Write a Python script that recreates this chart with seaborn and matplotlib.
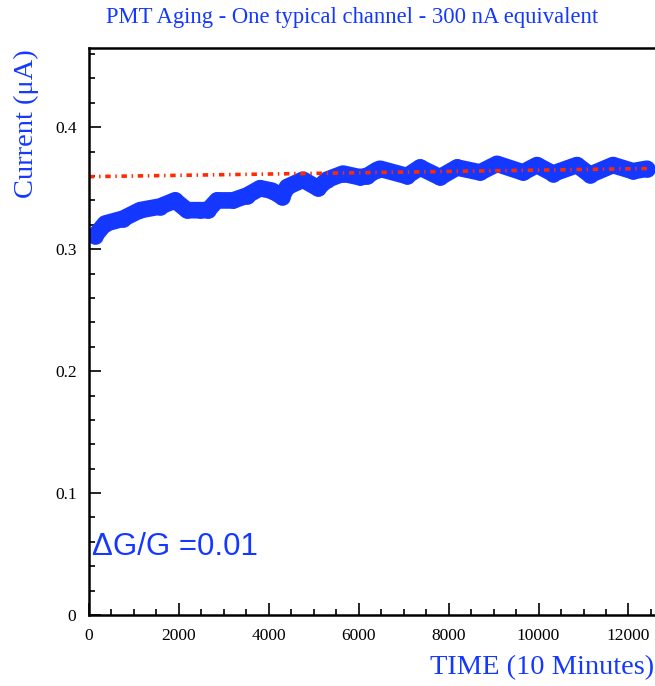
import matplotlib
matplotlib.use("Agg")
import matplotlib.pyplot as plt
import seaborn as sns
import pandas as pd
from matplotlib.ticker import MultipleLocator

sns.set_theme(style="white")

time_x = [133, 356, 756, 1134, 1579, 1913, 2180, 2470, 2647, 2847, 3203, 3514,
          3803, 4070, 4293, 4404, 4760, 5093, 5294, 5650, 6027, 6183, 6406, 6472,
          7073, 7362, 7807, 8185, 8697, 9075, 9653, 9964, 10320, 10854, 11143,
          11655, 12100, 12411]
current_y = [0.311, 0.321, 0.325, 0.332, 0.335, 0.340, 0.332, 0.332, 0.332, 0.340,
             0.340, 0.344, 0.350, 0.348, 0.343, 0.351, 0.357, 0.350, 0.357, 0.362,
             0.359, 0.360, 0.365, 0.366, 0.360, 0.367, 0.359, 0.367, 0.363, 0.370,
             0.363, 0.369, 0.362, 0.369, 0.361, 0.369, 0.364, 0.366]
fit_x = [0, 12500]
fit_y = [0.3595, 0.3662]

title = "PMT Aging - One typical channel - 300 nA equivalent"
xlabel = "TIME (10 Minutes)"
ylabel = "Current (\u03bcA)"
annot = "\u0394G/G =0.01"

blue = "#1438ff"
red = "#ff2a00"

df = pd.DataFrame({"t": time_x, "I": current_y})
fit = pd.DataFrame({"t": fit_x, "I": fit_y})

fig = plt.figure(figsize=(6.55, 6.86), dpi=100)
ax = fig.add_axes([89/655, 71/686, (655-89)/655, (615-48)/686])

sns.lineplot(data=df, x="t", y="I", ax=ax, color=blue, linewidth=12,
             solid_capstyle="round", solid_joinstyle="round", marker="o",
             markersize=12, markeredgewidth=0)
ax.plot(fit["t"], fit["I"], color=red, linewidth=2.6, dashes=(1.5, 1.3, 0.4, 1.3))

ax.xaxis.set_major_locator(MultipleLocator(2000))
ax.xaxis.set_minor_locator(MultipleLocator(500))
ax.yaxis.set_major_locator(MultipleLocator(0.1))
ax.yaxis.set_minor_locator(MultipleLocator(0.02))
ax.set_xlim(0, 12590)
ax.set_ylim(0, 0.465)
ax.tick_params(which="both", direction="in", top=False, right=False,
               left=True, bottom=True, colors="black", width=1.2)
ax.tick_params(which="major", length=8.5, labelsize=12.5, pad=9)
ax.tick_params(which="minor", length=4.5)
xt = [0, 2000, 4000, 6000, 8000, 10000, 12000]
ax.set_xticks(xt)
ax.set_xticklabels([str(v) for v in xt], family="Liberation Serif")
yt = [0, 0.1, 0.2, 0.3, 0.4]
ax.set_yticks(yt)
ax.set_yticklabels(["0" if v == 0 else f"{v:.1f}" for v in yt], family="Liberation Serif")
ax.set_xlim(0, 12590)
ax.set_ylim(0, 0.465)

for s in ["left", "bottom", "top"]:
    ax.spines[s].set_color("black")
    ax.spines[s].set_linewidth(1.8)
ax.spines["right"].set_visible(False)

ax.set_xlabel("")
ax.set_ylabel("")
fig.text(654/655, 1 - 668/686, xlabel, ha="right", va="center", color=blue,
         family="Liberation Serif", fontsize=20.5)
fig.text(26/655, 1 - 124/686, ylabel, ha="center", va="center", rotation=90,
         color=blue, family="Liberation Serif", fontsize=20.5)
fig.text(352/655, 1 - 18/686, title, ha="center", va="center", color=blue,
         family="Liberation Serif", fontsize=16.3)
ax.text(60, 0.056, annot, ha="left", va="center", color=blue,
        family="Liberation Sans", fontsize=22.5)

fig.savefig("out.png", dpi=100)
